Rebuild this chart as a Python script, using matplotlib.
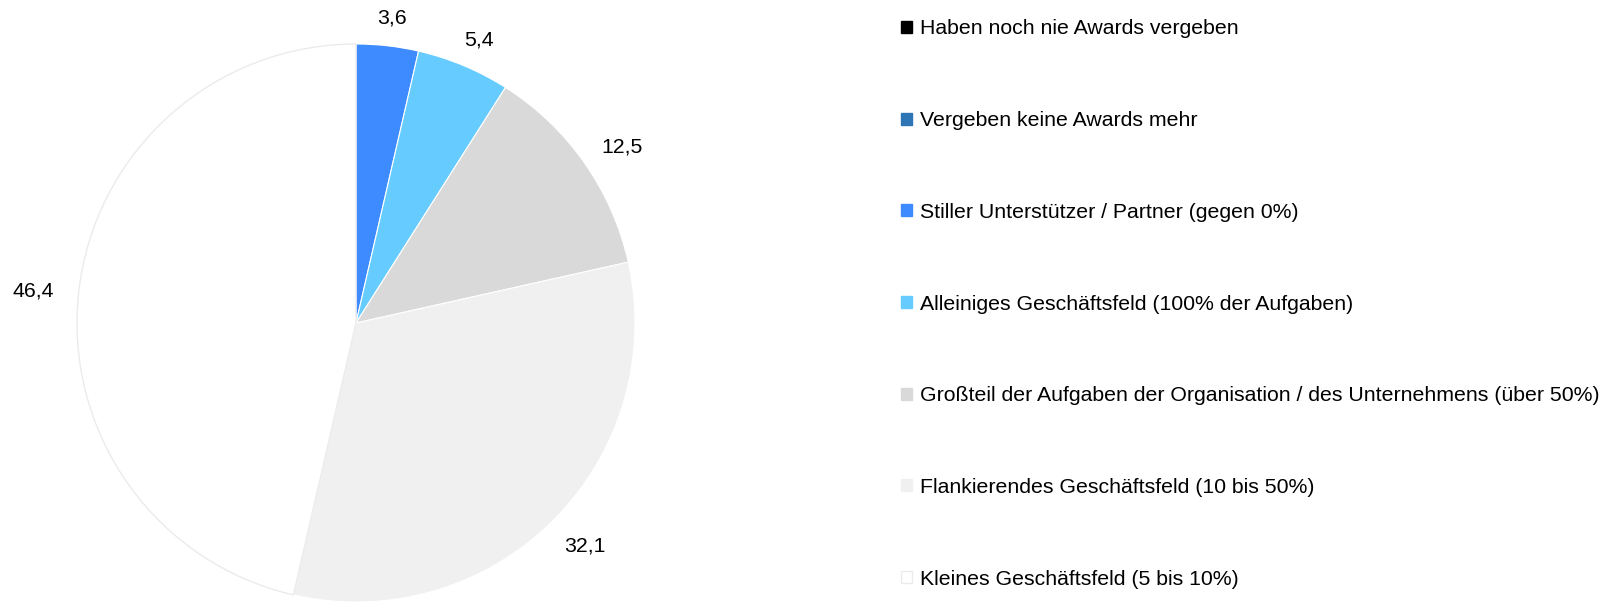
import numpy as np
import matplotlib.pyplot as plt
from matplotlib.patches import Patch

plt.rcParams['font.family'] = ['Liberation Sans', 'DejaVu Sans']

categories = [
    "Haben noch nie Awards vergeben",
    "Vergeben keine Awards mehr",
    "Stiller Unterstützer / Partner (gegen 0%)",
    "Alleiniges Geschäftsfeld (100% der Aufgaben)",
    "Großteil der Aufgaben der Organisation / des Unternehmens (über 50%)",
    "Flankierendes Geschäftsfeld (10 bis 50%)",
    "Kleines Geschäftsfeld (5 bis 10%)",
]
values = [0.0, 0.0, 3.6, 5.4, 12.5, 32.1, 46.4]
colors = ["#000000", "#2E75B6", "#3D8BFF", "#66CCFF", "#D9D9D9", "#F0F0F0", "#FFFFFF"]

fs = 15.3
fig = plt.figure(figsize=(16.22, 6.04), dpi=100)
cx, cy, R = 356, 323, 279
ax = fig.add_axes([(cx - R) / 1622, (604 - cy - R) / 604, 2 * R / 1622, 2 * R / 604])

wedges, _ = ax.pie(values, colors=colors, startangle=90, counterclock=False,
                   radius=1, wedgeprops=dict(edgecolor="white", linewidth=0.8))
wedges[-1].set_edgecolor("#EBEBEB")
wedges[-1].set_linewidth(1.0)
ax.set_xlim(-1, 1)
ax.set_ylim(-1, 1)
ax.set_aspect("equal")

# labels outside the end, box pushed outward from the anchor point
for w, v in zip(wedges, values):
    if v <= 0:
        continue
    ang = np.deg2rad((w.theta1 + w.theta2) / 2)
    lab = f"{v:.1f}".replace(".", ",")
    half_w = len(lab) * 0.28 * fs
    half_h = 0.42 * fs
    d = 1.08
    ax.annotate(lab, (d * np.cos(ang), d * np.sin(ang)),
                xytext=(half_w * np.cos(ang), half_h * np.sin(ang) - 2),
                textcoords="offset points", ha="center", va="center",
                fontsize=fs, color="#000000", annotation_clip=False)

handles = [Patch(facecolor=c, edgecolor=("#EBEBEB" if c == "#FFFFFF" else c)) for c in colors]
fig.legend(handles, categories, loc="upper left", bbox_to_anchor=(893 / 1622, 1 - 11 / 604),
           frameon=False, fontsize=fs, handlelength=0.5, handleheight=0.5,
           handletextpad=0.35, labelspacing=3.42, borderaxespad=0)

fig.savefig("out.png", dpi=100, facecolor="white")
